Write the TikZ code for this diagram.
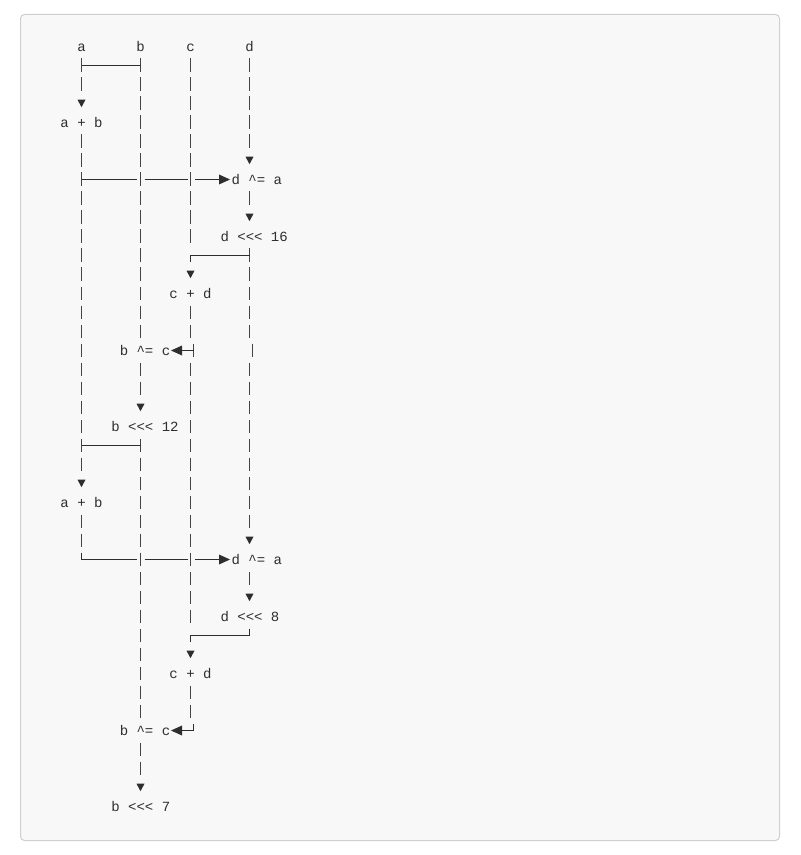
\documentclass[tikz,border=0pt]{standalone}
\usepackage{fontspec}
\setmonofont{Liberation Mono}
\definecolor{inkc}{HTML}{2E2E2E}
\definecolor{barc}{HTML}{444444}
\definecolor{bgc}{HTML}{F8F8F8}
\definecolor{borderc}{HTML}{CFCFCF}
\begin{document}
\begin{tikzpicture}[x=0.75pt,y=-0.75pt,
  ink/.style={draw=barc, line width=1pt},
  vline/.style={ink, dash pattern=on 10.125pt off 4.125pt},
  hline/.style={draw=inkc, line width=0.85pt},
  lbl/.style={inner sep=0pt, font=\ttfamily\fontsize{10.5}{12}\selectfont, text=inkc},
  tri/.style={fill=inkc, draw=none}]
\useasboundingbox (0,0) rectangle (800,855);
\draw[fill=bgc, draw=borderc, line width=0.75pt, rounded corners=3pt] (20.5,14.5) rectangle (779.5,840.5);

\begin{scope}[xshift=0.375pt]
% ---------- text nodes ----------
\node[lbl,anchor=base] (hA) at (81,51.5) {a};
\node[lbl,anchor=base] (hB) at (140,51.5) {b};
\node[lbl,anchor=base] (hC) at (190,51.5) {c};
\node[lbl,anchor=base] (hD) at (249,51.5) {d};
\node[lbl,anchor=base] (s1) at (81,127.5) {a + b};
\node[lbl,anchor=base west] (s2) at (230.8,184.5) {d \textasciicircum= a};
\node[lbl,anchor=base west] (s3) at (219.8,241.5) {d <<< 16};
\node[lbl,anchor=base] (s4) at (190,298.5) {c + d};
\node[lbl,anchor=base west] (s5) at (119,355.5) {b \textasciicircum= c};
\node[lbl,anchor=base west] (s6) at (110.6,431.5) {b <<< 12};
\node[lbl,anchor=base] (s7) at (81,507.5) {a + b};
\node[lbl,anchor=base west] (s8) at (230.8,564.5) {d \textasciicircum= a};
\node[lbl,anchor=base west] (s9) at (219.8,621.5) {d <<< 8};
\node[lbl,anchor=base] (s10) at (190,678.5) {c + d};
\node[lbl,anchor=base west] (s11) at (119,735.5) {b \textasciicircum= c};
\node[lbl,anchor=base west] (s12) at (110.6,811.5) {b <<< 7};

% ---------- coordinates: vertical runs ----------
\coordinate (a1s) at (81,58.5);   \coordinate (a1e) at (81,91);
\coordinate (a2s) at (81,134.5);  \coordinate (a2e) at (81,471);
\coordinate (a3s) at (81,514.5);  \coordinate (a3e) at (81,547);
\coordinate (b1s) at (140,58.5);  \coordinate (b1e) at (140,338);
\coordinate (b2s) at (140,362.5); \coordinate (b2e) at (140,395);
\coordinate (b3s) at (140,438.5); \coordinate (b3e) at (140,718);
\coordinate (b4s) at (140,742.5); \coordinate (b4e) at (140,775);
\coordinate (c1s) at (190,58.5);  \coordinate (c1e) at (190,243);
\coordinate (c2s) at (190,305.5); \coordinate (c2e) at (190,338);
\coordinate (c3s) at (193,343.5); \coordinate (c3e) at (193,357);
\coordinate (c4s) at (190,362.5); \coordinate (c4e) at (190,623);
\coordinate (c5s) at (190,685.5); \coordinate (c5e) at (190,718);
\coordinate (d1s) at (249,58.5);  \coordinate (d1e) at (249,148);
\coordinate (d2s) at (249,191.5); \coordinate (d2e) at (249,205);
\coordinate (d3s) at (249,248.5); \coordinate (d3e) at (249,338);
\coordinate (d4s) at (252,343.5); \coordinate (d4e) at (252,357);
\coordinate (d5s) at (249,362.5); \coordinate (d5e) at (249,528);
\coordinate (d6s) at (249,571.5); \coordinate (d6e) at (249,585);

\foreach \p in {a1,a2,a3,b1,b2,b3,b4,c1,c2,c4,c5,d1,d2,d3,d5,d6}
  \draw[vline] (\p s) -- (\p e);
\draw[ink] (c3s) -- (c3e);
\draw[ink] (d4s) -- (d4e);

% ---------- horizontal connectors ----------
\coordinate (r1a) at (81,65.5);   \coordinate (r1b) at (140,65.5);
\draw[hline] (r1a) -- (r1b);
\coordinate (r21a) at (81,445.5); \coordinate (r21b) at (140,445.5);
\draw[hline] (r21a) -- (r21b);

% row 7: a -> d ^= a
\coordinate (r7a) at (81,179.5);   \coordinate (r7b1) at (136.5,179.5);
\coordinate (r7b2) at (144,179.5); \coordinate (r7c1) at (187,179.5);
\coordinate (r7c2) at (194.5,179.5); \coordinate (r7t) at (220,179.5);
\draw[hline] (r7a) -- (r7b1);
\draw[hline] (r7b2) -- (r7c1);
\draw[hline] (r7c2) -- (r7t);
\fill[tri] (218.5,174.5) -- (229.5,179.5) -- (218.5,184.5) -- cycle;

% row 27: a (corner) -> d ^= a
\coordinate (r27k) at (81,552.5);  \coordinate (r27a) at (81,559.5);
\coordinate (r27b1) at (136.5,559.5);
\coordinate (r27b2) at (144,559.5); \coordinate (r27c1) at (187,559.5);
\coordinate (r27c2) at (194.5,559.5); \coordinate (r27t) at (220,559.5);
\draw[hline] (r27k) -- (r27a) -- (r27b1);
\draw[hline] (r27b2) -- (r27c1);
\draw[hline] (r27c2) -- (r27t);
\fill[tri] (218.5,554.5) -- (229.5,559.5) -- (218.5,564.5) -- cycle;

% row 11: d <<< 16 -> c
\coordinate (r11c) at (190,262); \coordinate (r11k) at (190,255.5);
\coordinate (r11d) at (249,255.5);
\draw[hline] (r11c) -- (r11k) -- (r11d);

% row 31: d <<< 8 -> c
\coordinate (r31d) at (249,628.5); \coordinate (r31k) at (249,635.5);
\coordinate (r31j) at (190,635.5); \coordinate (r31c) at (190,642);
\draw[hline] (r31d) -- (r31k) -- (r31j) -- (r31c);

% row 16: c -> b ^= c
\coordinate (r16c) at (193,350.5); \coordinate (r16t) at (181,350.5);
\draw[hline] (r16c) -- (r16t);
\fill[tri] (181.5,345.5) -- (170.5,350.5) -- (181.5,355.5) -- cycle;

% row 36: c (corner) -> b ^= c
\coordinate (r36s) at (193,723.5); \coordinate (r36k) at (193,730.5);
\coordinate (r36t) at (181,730.5);
\draw[hline] (r36s) -- (r36k) -- (r36t);
\fill[tri] (181.5,725.5) -- (170.5,730.5) -- (181.5,735.5) -- cycle;

% ---------- down arrowheads ----------
\foreach \x/\y in {81/103, 81/483, 140/407, 140/787, 190/274, 190/654,
                   249/160, 249/217, 249/540, 249/597}
  \fill[tri] (\x-4,\y-3.3) -- (\x+4,\y-3.3) -- (\x,\y+4.2) -- cycle;
\end{scope}
\end{tikzpicture}
\end{document}
